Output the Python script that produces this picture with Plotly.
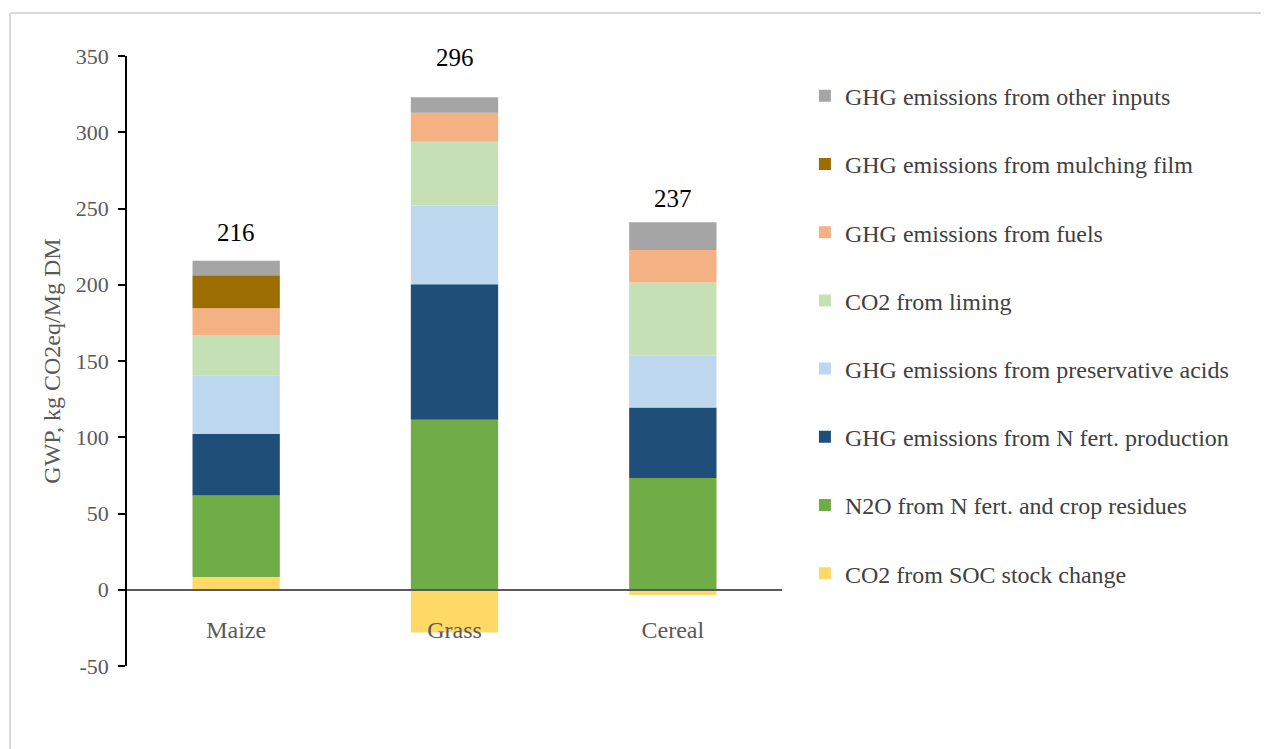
import plotly.graph_objects as go

categories = ["Maize", "Grass", "Cereal"]

series_names = [
    "CO2 from SOC stock change",
    "N2O from N fert. and crop residues",
    "GHG emissions from N fert. production",
    "GHG emissions from preservative acids",
    "CO2 from liming",
    "GHG emissions from fuels",
    "GHG emissions from mulching film",
    "GHG emissions from other inputs",
]

soc_change = [8.4, -28.0, -3.5]
n2o_fert_residues = [53.4, 111.4, 73.2]
n_fert_production = [40.4, 88.9, 46.3]
preservative_acids = [38.1, 51.6, 33.9]
liming = [26.8, 41.9, 48.0]
fuels = [17.5, 19.0, 21.4]
mulching_film = [21.6, 0.0, 0.0]
other_inputs = [9.6, 10.1, 18.2]

totals = [216, 296, 237]

y_tick_values = [-50, 0, 50, 100, 150, 200, 250, 300, 350]
y_tick_labels = ["-50", "0", "50", "100", "150", "200", "250", "300", "350"]

series_values = [soc_change, n2o_fert_residues, n_fert_production, preservative_acids,
                 liming, fuels, mulching_film, other_inputs]

colors = ["#FFD966", "#70AD47", "#1F4E79", "#BDD7EE", "#C5E0B4", "#F4B183", "#9C6D00", "#A5A5A5"]

label_shift_px = [28, 40, 24]

FONT = "Liberation Serif"

fig = go.Figure()
n = len(series_names)
for k, (name, vals, col) in enumerate(zip(series_names, series_values, colors)):
    fig.add_trace(go.Bar(
        name=name, x=categories, y=vals, marker_color=col,
        marker_line_width=0, legendgroup=name, legendrank=1000 + (n - k),
    ))

for i, (cat, tot, shift) in enumerate(zip(categories, totals, label_shift_px)):
    top = sum(v[i] for v in series_values if v[i] > 0)
    fig.add_annotation(x=cat, y=top, text=str(tot), showarrow=False,
                       yanchor="middle", yshift=shift,
                       font=dict(family=FONT, size=25, color="#000000"))

ymin, ymax = -50, 350

W, H = 1261, 741
L, R, T, B = 119, 487, 48, 83
PW, PH = W - L - R, H - T - B

fig.update_layout(
    barmode="relative",
    bargap=0.6,
    width=W, height=H,
    margin=dict(l=L, r=R, t=T, b=B),
    paper_bgcolor="white", plot_bgcolor="white",
    font=dict(family=FONT, size=24, color="#595959"),
    showlegend=True,
    legend=dict(
        traceorder="grouped",
        tracegroupgap=34,
        x=1.035, xanchor="left",
        y=0.971, yanchor="top",
        font=dict(family=FONT, size=24, color="#404040"),
        bgcolor="rgba(0,0,0,0)",
        itemwidth=30,
    ),
    xaxis=dict(
        anchor="free",
        position=(0 - ymin) / (ymax - ymin),
        showline=True, linecolor="#595959", linewidth=1.5,
        ticks="", showgrid=False,
        tickfont=dict(family=FONT, size=24, color="#595959"),
        ticklabelstandoff=19,
    ),
    yaxis=dict(
        range=[ymin, ymax],
        tickvals=y_tick_values, ticktext=y_tick_labels,
        showline=True, linecolor="#000000", linewidth=1.5,
        ticks="outside", ticklen=7, tickcolor="#000000", tickwidth=1.5,
        showgrid=False, zeroline=False,
        tickfont=dict(family=FONT, size=22, color="#595959"),
        ticklabelstandoff=5,
        title=dict(text="GWP, kg CO2eq/Mg DM",
                   font=dict(family=FONT, size=24, color="#595959"),
                   standoff=8),
    ),
    shapes=[
        dict(type="line", xref="paper", yref="paper",
             x0=(2 - L) / PW, x1=(W + 10 - L) / PW,
             y0=(T + PH - 5) / PH, y1=(T + PH - 5) / PH,
             line=dict(color="#D9D9D9", width=2)),
        dict(type="line", xref="paper", yref="paper",
             x0=(2 - L) / PW, x1=(2 - L) / PW,
             y0=(T + PH - 5) / PH, y1=(T + PH - H - 10) / PH,
             line=dict(color="#D9D9D9", width=2)),
    ],
)

fig.write_html("out.html")
